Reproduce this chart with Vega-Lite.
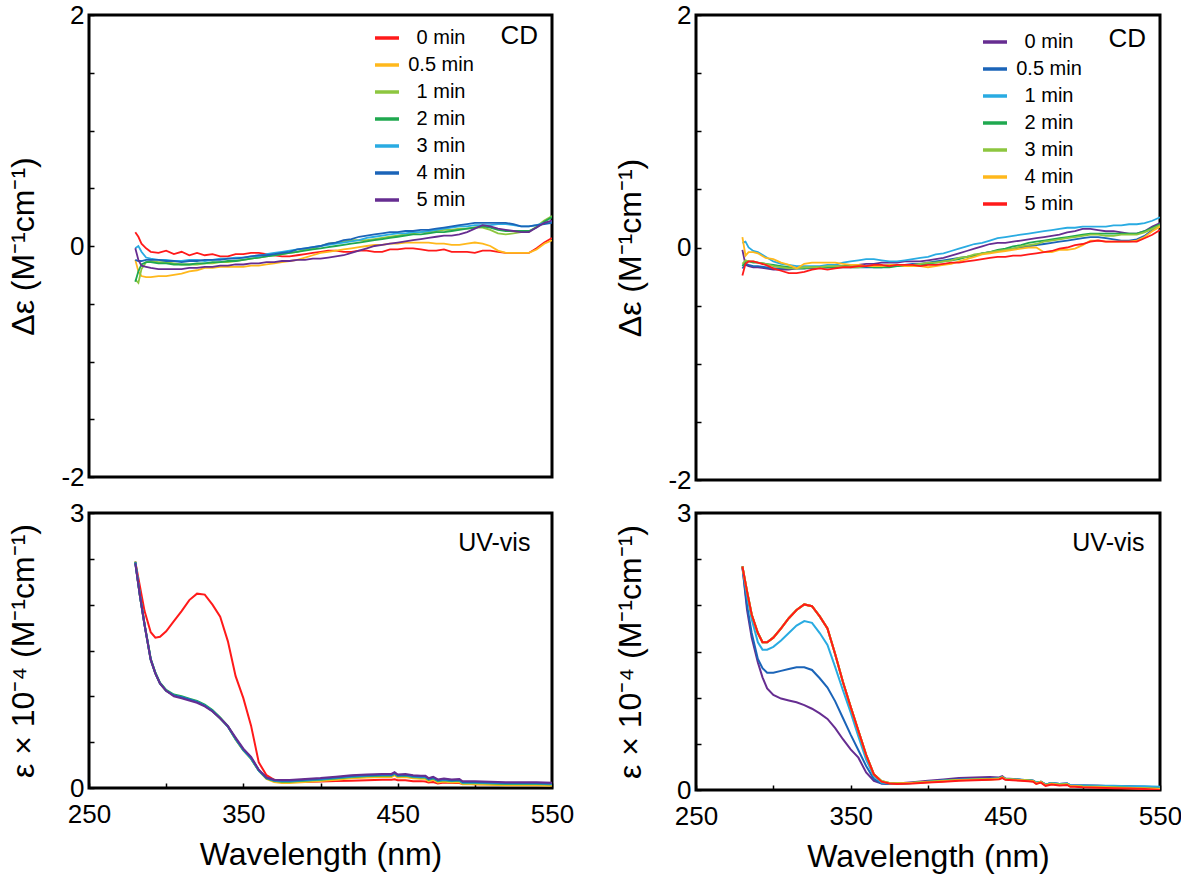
{
  "$schema": "https://vega.github.io/schema/vega-lite/v6.json",
  "background": "white",
  "padding": {"left": 5, "top": 0, "right": 0, "bottom": 0},
  "config": {
    "font": "Liberation Sans",
    "view": {"stroke": "black", "strokeWidth": 3},
    "axis": {
      "grid": false, "domain": false, "tickColor": "black", "tickWidth": 1.5, "tickSize": -5,
      "labelFont": "Liberation Sans", "labelFontSize": 26, "labelColor": "black",
      "titleFont": "Liberation Sans", "titleFontSize": 32, "titleFontWeight": "normal", "titleColor": "black",
      "labelFlush": false, "labelOverlap": false, "labelBound": false
    },
    "legend": {"labelFont": "Liberation Sans"}
  },
  "datasets": {
    "names": [
      {"k": "a", "t": "0 min"}, {"k": "b", "t": "0.5 min"}, {"k": "c", "t": "1 min"}, {"k": "d", "t": "2 min"},
      {"k": "e", "t": "3 min"}, {"k": "f", "t": "4 min"}, {"k": "g", "t": "5 min"}
    ],
    "cdL": [
      {"x":280,"a":0.12,"b":-0.12,"c":-0.29,"d":-0.31,"e":-0.02,"f":-0.12,"g":-0.02},
      {"x":282,"a":0.08,"b":-0.22,"c":-0.32,"d":-0.22,"e":0.0,"f":-0.13,"g":-0.12},
      {"x":284,"a":0.02,"b":-0.26,"c":-0.2,"d":-0.16,"e":-0.05,"f":-0.13,"g":-0.17},
      {"x":287,"a":-0.02,"b":-0.27,"c":-0.14,"d":-0.14,"e":-0.1,"f":-0.12,"g":-0.18},
      {"x":290,"a":-0.05,"b":-0.27,"c":-0.13,"d":-0.14,"e":-0.11,"f":-0.12,"g":-0.19},
      {"x":295,"a":-0.06,"b":-0.26,"c":-0.14,"d":-0.15,"e":-0.12,"f":-0.12,"g":-0.2},
      {"x":300,"a":-0.04,"b":-0.26,"c":-0.14,"d":-0.15,"e":-0.12,"f":-0.13,"g":-0.2},
      {"x":305,"a":-0.07,"b":-0.25,"c":-0.15,"d":-0.16,"e":-0.13,"f":-0.13,"g":-0.2},
      {"x":310,"a":-0.05,"b":-0.24,"c":-0.16,"d":-0.16,"e":-0.13,"f":-0.14,"g":-0.2},
      {"x":315,"a":-0.08,"b":-0.22,"c":-0.16,"d":-0.16,"e":-0.12,"f":-0.13,"g":-0.19},
      {"x":320,"a":-0.06,"b":-0.21,"c":-0.16,"d":-0.15,"e":-0.12,"f":-0.13,"g":-0.19},
      {"x":325,"a":-0.08,"b":-0.19,"c":-0.15,"d":-0.15,"e":-0.13,"f":-0.12,"g":-0.18},
      {"x":330,"a":-0.07,"b":-0.19,"c":-0.15,"d":-0.14,"e":-0.12,"f":-0.12,"g":-0.18},
      {"x":335,"a":-0.09,"b":-0.18,"c":-0.14,"d":-0.14,"e":-0.11,"f":-0.12,"g":-0.17},
      {"x":340,"a":-0.09,"b":-0.18,"c":-0.14,"d":-0.13,"e":-0.11,"f":-0.11,"g":-0.17},
      {"x":345,"a":-0.07,"b":-0.18,"c":-0.13,"d":-0.13,"e":-0.1,"f":-0.11,"g":-0.16},
      {"x":350,"a":-0.07,"b":-0.18,"c":-0.12,"d":-0.12,"e":-0.1,"f":-0.1,"g":-0.16},
      {"x":355,"a":-0.06,"b":-0.17,"c":-0.11,"d":-0.11,"e":-0.09,"f":-0.09,"g":-0.15},
      {"x":360,"a":-0.06,"b":-0.17,"c":-0.1,"d":-0.1,"e":-0.09,"f":-0.08,"g":-0.15},
      {"x":365,"a":-0.07,"b":-0.16,"c":-0.09,"d":-0.09,"e":-0.07,"f":-0.08,"g":-0.14},
      {"x":370,"a":-0.08,"b":-0.15,"c":-0.08,"d":-0.08,"e":-0.06,"f":-0.07,"g":-0.14},
      {"x":375,"a":-0.09,"b":-0.14,"c":-0.07,"d":-0.07,"e":-0.05,"f":-0.06,"g":-0.13},
      {"x":380,"a":-0.09,"b":-0.13,"c":-0.06,"d":-0.06,"e":-0.04,"f":-0.05,"g":-0.13},
      {"x":385,"a":-0.08,"b":-0.12,"c":-0.05,"d":-0.05,"e":-0.03,"f":-0.03,"g":-0.12},
      {"x":390,"a":-0.07,"b":-0.1,"c":-0.03,"d":-0.04,"e":-0.02,"f":-0.02,"g":-0.12},
      {"x":395,"a":-0.06,"b":-0.08,"c":-0.02,"d":-0.03,"e":-0.01,"f":-0.01,"g":-0.11},
      {"x":400,"a":-0.05,"b":-0.06,"c":0.0,"d":-0.02,"e":0.0,"f":0.0,"g":-0.11},
      {"x":405,"a":-0.04,"b":-0.05,"c":0.02,"d":-0.01,"e":0.01,"f":0.02,"g":-0.1},
      {"x":410,"a":-0.04,"b":-0.04,"c":0.03,"d":0.0,"e":0.02,"f":0.03,"g":-0.09},
      {"x":415,"a":-0.05,"b":-0.03,"c":0.04,"d":0.01,"e":0.03,"f":0.05,"g":-0.08},
      {"x":420,"a":-0.05,"b":-0.02,"c":0.05,"d":0.02,"e":0.04,"f":0.06,"g":-0.06},
      {"x":425,"a":-0.04,"b":-0.01,"c":0.05,"d":0.03,"e":0.05,"f":0.08,"g":-0.04},
      {"x":430,"a":-0.04,"b":0.0,"c":0.05,"d":0.04,"e":0.07,"f":0.09,"g":-0.02},
      {"x":435,"a":-0.05,"b":0.01,"c":0.06,"d":0.05,"e":0.08,"f":0.1,"g":0.0},
      {"x":440,"a":-0.05,"b":0.01,"c":0.07,"d":0.06,"e":0.09,"f":0.11,"g":0.01},
      {"x":445,"a":-0.03,"b":0.02,"c":0.08,"d":0.07,"e":0.1,"f":0.12,"g":0.02},
      {"x":450,"a":-0.03,"b":0.02,"c":0.09,"d":0.08,"e":0.11,"f":0.12,"g":0.03},
      {"x":455,"a":-0.02,"b":0.03,"c":0.1,"d":0.09,"e":0.11,"f":0.13,"g":0.04},
      {"x":460,"a":-0.02,"b":0.03,"c":0.11,"d":0.1,"e":0.12,"f":0.13,"g":0.05},
      {"x":465,"a":-0.03,"b":0.03,"c":0.12,"d":0.1,"e":0.12,"f":0.14,"g":0.06},
      {"x":470,"a":-0.04,"b":0.03,"c":0.12,"d":0.11,"e":0.13,"f":0.14,"g":0.07},
      {"x":475,"a":-0.04,"b":0.02,"c":0.13,"d":0.12,"e":0.14,"f":0.15,"g":0.08},
      {"x":480,"a":-0.03,"b":0.02,"c":0.14,"d":0.12,"e":0.15,"f":0.16,"g":0.09},
      {"x":485,"a":-0.05,"b":0.01,"c":0.14,"d":0.13,"e":0.16,"f":0.17,"g":0.09},
      {"x":490,"a":-0.05,"b":0.01,"c":0.15,"d":0.14,"e":0.17,"f":0.18,"g":0.1},
      {"x":495,"a":-0.05,"b":0.02,"c":0.15,"d":0.15,"e":0.17,"f":0.19,"g":0.12},
      {"x":500,"a":-0.06,"b":0.03,"c":0.16,"d":0.16,"e":0.18,"f":0.2,"g":0.15},
      {"x":505,"a":-0.04,"b":0.02,"c":0.16,"d":0.17,"e":0.18,"f":0.2,"g":0.18},
      {"x":510,"a":-0.04,"b":0.0,"c":0.14,"d":0.16,"e":0.18,"f":0.2,"g":0.17},
      {"x":515,"a":-0.05,"b":-0.04,"c":0.11,"d":0.14,"e":0.19,"f":0.2,"g":0.15},
      {"x":520,"a":-0.06,"b":-0.06,"c":0.1,"d":0.13,"e":0.19,"f":0.2,"g":0.14},
      {"x":525,"a":-0.06,"b":-0.06,"c":0.11,"d":0.13,"e":0.18,"f":0.19,"g":0.13},
      {"x":530,"a":-0.06,"b":-0.06,"c":0.12,"d":0.13,"e":0.17,"f":0.17,"g":0.12},
      {"x":535,"a":-0.06,"b":-0.06,"c":0.12,"d":0.13,"e":0.17,"f":0.17,"g":0.12},
      {"x":540,"a":-0.02,"b":-0.03,"c":0.17,"d":0.16,"e":0.18,"f":0.18,"g":0.16},
      {"x":545,"a":0.03,"b":0.02,"c":0.22,"d":0.21,"e":0.2,"f":0.19,"g":0.2},
      {"x":550,"a":0.07,"b":0.05,"c":0.26,"d":0.25,"e":0.21,"f":0.2,"g":0.22}
    ],
    "cdR": [
      {"x":280,"a":-0.02,"b":-0.18,"c":0.04,"d":-0.16,"e":-0.14,"f":0.09,"g":-0.24},
      {"x":282,"a":-0.15,"b":-0.14,"c":0.05,"d":-0.12,"e":-0.11,"f":-0.07,"g":-0.14},
      {"x":284,"a":-0.16,"b":-0.15,"c":0.0,"d":-0.12,"e":-0.12,"f":-0.04,"g":-0.12},
      {"x":287,"a":-0.17,"b":-0.16,"c":-0.03,"d":-0.13,"e":-0.12,"f":-0.04,"g":-0.12},
      {"x":290,"a":-0.17,"b":-0.16,"c":-0.04,"d":-0.13,"e":-0.13,"f":-0.05,"g":-0.13},
      {"x":295,"a":-0.18,"b":-0.17,"c":-0.08,"d":-0.14,"e":-0.14,"f":-0.09,"g":-0.15},
      {"x":300,"a":-0.19,"b":-0.18,"c":-0.12,"d":-0.15,"e":-0.16,"f":-0.1,"g":-0.18},
      {"x":305,"a":-0.19,"b":-0.18,"c":-0.14,"d":-0.16,"e":-0.17,"f":-0.13,"g":-0.2},
      {"x":310,"a":-0.19,"b":-0.18,"c":-0.15,"d":-0.17,"e":-0.18,"f":-0.15,"g":-0.22},
      {"x":315,"a":-0.18,"b":-0.18,"c":-0.16,"d":-0.18,"e":-0.18,"f":-0.18,"g":-0.22},
      {"x":320,"a":-0.18,"b":-0.18,"c":-0.16,"d":-0.18,"e":-0.17,"f":-0.14,"g":-0.21},
      {"x":325,"a":-0.18,"b":-0.17,"c":-0.16,"d":-0.17,"e":-0.17,"f":-0.13,"g":-0.19},
      {"x":330,"a":-0.17,"b":-0.17,"c":-0.16,"d":-0.17,"e":-0.17,"f":-0.13,"g":-0.18},
      {"x":335,"a":-0.17,"b":-0.17,"c":-0.15,"d":-0.17,"e":-0.16,"f":-0.13,"g":-0.19},
      {"x":340,"a":-0.16,"b":-0.17,"c":-0.15,"d":-0.17,"e":-0.16,"f":-0.13,"g":-0.18},
      {"x":345,"a":-0.16,"b":-0.17,"c":-0.13,"d":-0.16,"e":-0.16,"f":-0.14,"g":-0.17},
      {"x":350,"a":-0.15,"b":-0.17,"c":-0.12,"d":-0.16,"e":-0.17,"f":-0.15,"g":-0.17},
      {"x":355,"a":-0.15,"b":-0.17,"c":-0.11,"d":-0.16,"e":-0.17,"f":-0.15,"g":-0.16},
      {"x":360,"a":-0.14,"b":-0.17,"c":-0.1,"d":-0.16,"e":-0.16,"f":-0.16,"g":-0.16},
      {"x":365,"a":-0.14,"b":-0.17,"c":-0.1,"d":-0.17,"e":-0.16,"f":-0.16,"g":-0.15},
      {"x":370,"a":-0.13,"b":-0.17,"c":-0.11,"d":-0.17,"e":-0.16,"f":-0.16,"g":-0.15},
      {"x":375,"a":-0.13,"b":-0.16,"c":-0.12,"d":-0.17,"e":-0.15,"f":-0.15,"g":-0.16},
      {"x":380,"a":-0.13,"b":-0.16,"c":-0.12,"d":-0.16,"e":-0.15,"f":-0.15,"g":-0.15},
      {"x":385,"a":-0.12,"b":-0.15,"c":-0.11,"d":-0.16,"e":-0.15,"f":-0.16,"g":-0.15},
      {"x":390,"a":-0.12,"b":-0.14,"c":-0.1,"d":-0.15,"e":-0.15,"f":-0.16,"g":-0.15},
      {"x":395,"a":-0.12,"b":-0.14,"c":-0.09,"d":-0.15,"e":-0.14,"f":-0.16,"g":-0.16},
      {"x":400,"a":-0.11,"b":-0.13,"c":-0.08,"d":-0.14,"e":-0.13,"f":-0.17,"g":-0.15},
      {"x":405,"a":-0.1,"b":-0.12,"c":-0.06,"d":-0.13,"e":-0.13,"f":-0.16,"g":-0.15},
      {"x":410,"a":-0.09,"b":-0.11,"c":-0.05,"d":-0.12,"e":-0.12,"f":-0.15,"g":-0.14},
      {"x":415,"a":-0.07,"b":-0.1,"c":-0.03,"d":-0.11,"e":-0.11,"f":-0.14,"g":-0.13},
      {"x":420,"a":-0.05,"b":-0.09,"c":-0.01,"d":-0.1,"e":-0.09,"f":-0.12,"g":-0.13},
      {"x":425,"a":-0.03,"b":-0.08,"c":0.01,"d":-0.08,"e":-0.08,"f":-0.1,"g":-0.12},
      {"x":430,"a":-0.01,"b":-0.07,"c":0.03,"d":-0.07,"e":-0.06,"f":-0.08,"g":-0.11},
      {"x":435,"a":0.01,"b":-0.05,"c":0.04,"d":-0.05,"e":-0.05,"f":-0.06,"g":-0.1},
      {"x":440,"a":0.03,"b":-0.04,"c":0.06,"d":-0.04,"e":-0.04,"f":-0.05,"g":-0.09},
      {"x":445,"a":0.04,"b":-0.03,"c":0.08,"d":-0.02,"e":-0.03,"f":-0.04,"g":-0.08},
      {"x":450,"a":0.04,"b":-0.02,"c":0.09,"d":-0.01,"e":-0.02,"f":-0.03,"g":-0.08},
      {"x":455,"a":0.05,"b":-0.01,"c":0.1,"d":0.01,"e":-0.01,"f":-0.02,"g":-0.07},
      {"x":460,"a":0.06,"b":0.0,"c":0.11,"d":0.02,"e":0.01,"f":-0.01,"g":-0.07},
      {"x":465,"a":0.07,"b":0.01,"c":0.12,"d":0.04,"e":0.02,"f":0.0,"g":-0.06},
      {"x":470,"a":0.08,"b":0.02,"c":0.13,"d":0.05,"e":0.03,"f":0.0,"g":-0.05},
      {"x":475,"a":0.09,"b":0.03,"c":0.14,"d":0.06,"e":0.05,"f":-0.04,"g":-0.04},
      {"x":480,"a":0.1,"b":0.04,"c":0.15,"d":0.07,"e":0.06,"f":-0.04,"g":-0.03},
      {"x":485,"a":0.11,"b":0.05,"c":0.16,"d":0.08,"e":0.07,"f":-0.02,"g":-0.01},
      {"x":490,"a":0.13,"b":0.06,"c":0.17,"d":0.09,"e":0.08,"f":-0.02,"g":0.0},
      {"x":495,"a":0.14,"b":0.07,"c":0.17,"d":0.1,"e":0.09,"f":-0.01,"g":0.02},
      {"x":500,"a":0.16,"b":0.08,"c":0.18,"d":0.11,"e":0.1,"f":0.02,"g":0.03},
      {"x":505,"a":0.16,"b":0.09,"c":0.18,"d":0.12,"e":0.11,"f":0.06,"g":0.05},
      {"x":510,"a":0.15,"b":0.09,"c":0.18,"d":0.12,"e":0.11,"f":0.06,"g":0.06},
      {"x":515,"a":0.14,"b":0.08,"c":0.18,"d":0.12,"e":0.1,"f":0.05,"g":0.05},
      {"x":520,"a":0.14,"b":0.07,"c":0.19,"d":0.12,"e":0.1,"f":0.05,"g":0.05},
      {"x":525,"a":0.13,"b":0.06,"c":0.19,"d":0.12,"e":0.11,"f":0.05,"g":0.05},
      {"x":530,"a":0.12,"b":0.06,"c":0.2,"d":0.12,"e":0.11,"f":0.05,"g":0.05},
      {"x":535,"a":0.12,"b":0.07,"c":0.2,"d":0.12,"e":0.11,"f":0.06,"g":0.05},
      {"x":540,"a":0.14,"b":0.1,"c":0.21,"d":0.14,"e":0.13,"f":0.09,"g":0.08},
      {"x":545,"a":0.18,"b":0.15,"c":0.23,"d":0.17,"e":0.16,"f":0.14,"g":0.11},
      {"x":550,"a":0.21,"b":0.19,"c":0.26,"d":0.2,"e":0.19,"f":0.18,"g":0.15}
    ],
    "uvL": [
      {"x":280,"a":2.47,"b":2.47,"c":2.46,"d":2.47,"e":2.46,"f":2.46,"g":2.45},
      {"x":283,"a":2.2,"b":2.1,"c":2.1,"d":2.1,"e":2.1,"f":2.1,"g":2.1},
      {"x":286,"a":1.93,"b":1.78,"c":1.78,"d":1.79,"e":1.78,"f":1.78,"g":1.78},
      {"x":290,"a":1.7,"b":1.4,"c":1.4,"d":1.41,"e":1.4,"f":1.4,"g":1.4},
      {"x":293,"a":1.64,"b":1.25,"c":1.25,"d":1.26,"e":1.25,"f":1.25,"g":1.25},
      {"x":296,"a":1.65,"b":1.14,"c":1.14,"d":1.15,"e":1.14,"f":1.14,"g":1.14},
      {"x":300,"a":1.71,"b":1.06,"c":1.06,"d":1.07,"e":1.06,"f":1.06,"g":1.06},
      {"x":305,"a":1.82,"b":1.01,"c":1.01,"d":1.02,"e":1.01,"f":1.01,"g":1.0},
      {"x":310,"a":1.93,"b":0.99,"c":0.99,"d":1.0,"e":0.99,"f":0.99,"g":0.98},
      {"x":315,"a":2.05,"b":0.965,"c":0.965,"d":0.975,"e":0.965,"f":0.965,"g":0.955},
      {"x":320,"a":2.12,"b":0.94,"c":0.94,"d":0.95,"e":0.94,"f":0.94,"g":0.93},
      {"x":325,"a":2.11,"b":0.9,"c":0.9,"d":0.91,"e":0.9,"f":0.9,"g":0.89},
      {"x":330,"a":2.0,"b":0.84,"c":0.84,"d":0.85,"e":0.84,"f":0.84,"g":0.835},
      {"x":335,"a":1.87,"b":0.76,"c":0.76,"d":0.77,"e":0.76,"f":0.76,"g":0.76},
      {"x":340,"a":1.6,"b":0.67,"c":0.67,"d":0.675,"e":0.67,"f":0.67,"g":0.675},
      {"x":345,"a":1.22,"b":0.53,"c":0.53,"d":0.535,"e":0.535,"f":0.54,"g":0.55},
      {"x":350,"a":0.98,"b":0.41,"c":0.41,"d":0.415,"e":0.415,"f":0.42,"g":0.43},
      {"x":355,"a":0.68,"b":0.32,"c":0.32,"d":0.32,"e":0.325,"f":0.33,"g":0.34},
      {"x":360,"a":0.28,"b":0.19,"c":0.19,"d":0.19,"e":0.19,"f":0.195,"g":0.2},
      {"x":365,"a":0.14,"b":0.1,"c":0.105,"d":0.105,"e":0.11,"f":0.11,"g":0.115},
      {"x":370,"a":0.09,"b":0.065,"c":0.075,"d":0.08,"e":0.082,"f":0.085,"g":0.09},
      {"x":375,"a":0.075,"b":0.055,"c":0.068,"d":0.072,"e":0.076,"f":0.08,"g":0.088},
      {"x":380,"a":0.07,"b":0.055,"c":0.068,"d":0.072,"e":0.076,"f":0.08,"g":0.088},
      {"x":390,"a":0.065,"b":0.065,"c":0.078,"d":0.082,"e":0.086,"f":0.09,"g":0.098},
      {"x":400,"a":0.07,"b":0.075,"c":0.088,"d":0.092,"e":0.096,"f":0.1,"g":0.108},
      {"x":410,"a":0.075,"b":0.09,"c":0.103,"d":0.107,"e":0.111,"f":0.115,"g":0.123},
      {"x":420,"a":0.08,"b":0.105,"c":0.118,"d":0.122,"e":0.126,"f":0.13,"g":0.138},
      {"x":430,"a":0.085,"b":0.115,"c":0.128,"d":0.132,"e":0.136,"f":0.14,"g":0.148},
      {"x":440,"a":0.09,"b":0.12,"c":0.133,"d":0.137,"e":0.141,"f":0.145,"g":0.153},
      {"x":446,"a":0.09,"b":0.12,"c":0.133,"d":0.137,"e":0.141,"f":0.145,"g":0.153},
      {"x":448,"a":0.095,"b":0.14,"c":0.153,"d":0.157,"e":0.161,"f":0.165,"g":0.173},
      {"x":450,"a":0.085,"b":0.115,"c":0.128,"d":0.132,"e":0.136,"f":0.14,"g":0.148},
      {"x":455,"a":0.085,"b":0.12,"c":0.133,"d":0.137,"e":0.141,"f":0.145,"g":0.153},
      {"x":460,"a":0.075,"b":0.105,"c":0.118,"d":0.122,"e":0.126,"f":0.13,"g":0.138},
      {"x":465,"a":0.075,"b":0.1,"c":0.113,"d":0.117,"e":0.121,"f":0.125,"g":0.133},
      {"x":468,"a":0.07,"b":0.1,"c":0.113,"d":0.117,"e":0.121,"f":0.125,"g":0.133},
      {"x":470,"a":0.06,"b":0.075,"c":0.088,"d":0.092,"e":0.096,"f":0.1,"g":0.108},
      {"x":473,"a":0.065,"b":0.09,"c":0.103,"d":0.107,"e":0.111,"f":0.115,"g":0.123},
      {"x":476,"a":0.05,"b":0.06,"c":0.073,"d":0.077,"e":0.081,"f":0.085,"g":0.093},
      {"x":480,"a":0.06,"b":0.07,"c":0.083,"d":0.087,"e":0.091,"f":0.095,"g":0.103},
      {"x":485,"a":0.055,"b":0.06,"c":0.073,"d":0.077,"e":0.081,"f":0.085,"g":0.093},
      {"x":490,"a":0.055,"b":0.065,"c":0.078,"d":0.082,"e":0.086,"f":0.09,"g":0.098},
      {"x":492,"a":0.045,"b":0.04,"c":0.053,"d":0.057,"e":0.061,"f":0.065,"g":0.073},
      {"x":495,"a":0.045,"b":0.04,"c":0.053,"d":0.057,"e":0.061,"f":0.065,"g":0.073},
      {"x":500,"a":0.04,"b":0.04,"c":0.053,"d":0.057,"e":0.061,"f":0.065,"g":0.073},
      {"x":510,"a":0.04,"b":0.035,"c":0.048,"d":0.052,"e":0.056,"f":0.06,"g":0.068},
      {"x":520,"a":0.035,"b":0.03,"c":0.043,"d":0.047,"e":0.051,"f":0.055,"g":0.063},
      {"x":530,"a":0.035,"b":0.03,"c":0.043,"d":0.047,"e":0.051,"f":0.055,"g":0.063},
      {"x":540,"a":0.035,"b":0.03,"c":0.043,"d":0.047,"e":0.051,"f":0.055,"g":0.063},
      {"x":550,"a":0.035,"b":0.025,"c":0.038,"d":0.042,"e":0.046,"f":0.05,"g":0.058}
    ],
    "uvR": [
      {"x":280,"a":2.42,"b":2.42,"c":2.42,"d":2.42,"e":2.42,"f":2.42,"g":2.42},
      {"x":283,"a":1.95,"b":2.0,"c":2.1,"d":2.15,"e":2.15,"f":2.15,"g":2.15},
      {"x":286,"a":1.65,"b":1.7,"c":1.85,"d":1.9,"e":1.9,"f":1.9,"g":1.9},
      {"x":290,"a":1.38,"b":1.42,"c":1.6,"d":1.7,"e":1.7,"f":1.7,"g":1.7},
      {"x":293,"a":1.22,"b":1.32,"c":1.52,"d":1.6,"e":1.6,"f":1.6,"g":1.6},
      {"x":296,"a":1.1,"b":1.27,"c":1.52,"d":1.6,"e":1.6,"f":1.6,"g":1.6},
      {"x":300,"a":1.03,"b":1.27,"c":1.55,"d":1.65,"e":1.65,"f":1.65,"g":1.65},
      {"x":305,"a":0.99,"b":1.29,"c":1.62,"d":1.75,"e":1.75,"f":1.75,"g":1.75},
      {"x":310,"a":0.97,"b":1.31,"c":1.7,"d":1.86,"e":1.86,"f":1.86,"g":1.86},
      {"x":315,"a":0.95,"b":1.33,"c":1.78,"d":1.95,"e":1.95,"f":1.95,"g":1.95},
      {"x":320,"a":0.92,"b":1.33,"c":1.83,"d":2.01,"e":2.01,"f":2.01,"g":2.01},
      {"x":325,"a":0.88,"b":1.3,"c":1.81,"d":1.99,"e":1.99,"f":1.99,"g":1.99},
      {"x":330,"a":0.83,"b":1.21,"c":1.7,"d":1.88,"e":1.88,"f":1.88,"g":1.88},
      {"x":335,"a":0.77,"b":1.11,"c":1.57,"d":1.75,"e":1.75,"f":1.75,"g":1.75},
      {"x":340,"a":0.67,"b":0.96,"c":1.33,"d":1.47,"e":1.47,"f":1.47,"g":1.47},
      {"x":345,"a":0.55,"b":0.78,"c":1.08,"d":1.17,"e":1.17,"f":1.17,"g":1.17},
      {"x":350,"a":0.44,"b":0.6,"c":0.84,"d":0.9,"e":0.9,"f":0.9,"g":0.9},
      {"x":355,"a":0.35,"b":0.43,"c":0.58,"d":0.64,"e":0.64,"f":0.64,"g":0.64},
      {"x":360,"a":0.19,"b":0.26,"c":0.33,"d":0.38,"e":0.38,"f":0.38,"g":0.38},
      {"x":365,"a":0.1,"b":0.12,"c":0.15,"d":0.17,"e":0.17,"f":0.17,"g":0.17},
      {"x":370,"a":0.07,"b":0.07,"c":0.08,"d":0.095,"e":0.097,"f":0.093,"g":0.09},
      {"x":375,"a":0.065,"b":0.065,"c":0.07,"d":0.075,"e":0.077,"f":0.073,"g":0.07},
      {"x":380,"a":0.07,"b":0.065,"c":0.07,"d":0.072,"e":0.074,"f":0.07,"g":0.065},
      {"x":390,"a":0.085,"b":0.075,"c":0.075,"d":0.077,"e":0.079,"f":0.075,"g":0.07},
      {"x":400,"a":0.1,"b":0.09,"c":0.09,"d":0.087,"e":0.089,"f":0.085,"g":0.08},
      {"x":410,"a":0.115,"b":0.105,"c":0.1,"d":0.097,"e":0.099,"f":0.095,"g":0.09},
      {"x":420,"a":0.13,"b":0.115,"c":0.11,"d":0.107,"e":0.109,"f":0.105,"g":0.1},
      {"x":430,"a":0.135,"b":0.12,"c":0.115,"d":0.112,"e":0.114,"f":0.11,"g":0.105},
      {"x":440,"a":0.14,"b":0.125,"c":0.12,"d":0.117,"e":0.119,"f":0.115,"g":0.11},
      {"x":446,"a":0.135,"b":0.125,"c":0.125,"d":0.122,"e":0.124,"f":0.12,"g":0.115},
      {"x":448,"a":0.15,"b":0.14,"c":0.14,"d":0.137,"e":0.139,"f":0.135,"g":0.13},
      {"x":450,"a":0.125,"b":0.12,"c":0.12,"d":0.117,"e":0.119,"f":0.115,"g":0.11},
      {"x":455,"a":0.12,"b":0.115,"c":0.115,"d":0.112,"e":0.114,"f":0.11,"g":0.105},
      {"x":460,"a":0.11,"b":0.11,"c":0.11,"d":0.107,"e":0.109,"f":0.105,"g":0.1},
      {"x":465,"a":0.105,"b":0.105,"c":0.105,"d":0.102,"e":0.104,"f":0.1,"g":0.095},
      {"x":468,"a":0.1,"b":0.1,"c":0.1,"d":0.097,"e":0.099,"f":0.095,"g":0.09},
      {"x":470,"a":0.08,"b":0.08,"c":0.08,"d":0.072,"e":0.074,"f":0.07,"g":0.065},
      {"x":473,"a":0.09,"b":0.09,"c":0.09,"d":0.087,"e":0.089,"f":0.085,"g":0.08},
      {"x":476,"a":0.06,"b":0.06,"c":0.06,"d":0.052,"e":0.054,"f":0.05,"g":0.045},
      {"x":480,"a":0.075,"b":0.075,"c":0.075,"d":0.067,"e":0.069,"f":0.065,"g":0.06},
      {"x":485,"a":0.065,"b":0.065,"c":0.065,"d":0.057,"e":0.059,"f":0.055,"g":0.05},
      {"x":490,"a":0.07,"b":0.07,"c":0.07,"d":0.062,"e":0.064,"f":0.06,"g":0.055},
      {"x":492,"a":0.05,"b":0.05,"c":0.05,"d":0.042,"e":0.044,"f":0.04,"g":0.035},
      {"x":495,"a":0.05,"b":0.05,"c":0.05,"d":0.042,"e":0.044,"f":0.04,"g":0.035},
      {"x":500,"a":0.05,"b":0.05,"c":0.05,"d":0.037,"e":0.039,"f":0.035,"g":0.03},
      {"x":510,"a":0.045,"b":0.045,"c":0.045,"d":0.032,"e":0.034,"f":0.03,"g":0.025},
      {"x":520,"a":0.04,"b":0.04,"c":0.045,"d":0.027,"e":0.029,"f":0.025,"g":0.02},
      {"x":530,"a":0.035,"b":0.04,"c":0.04,"d":0.022,"e":0.024,"f":0.02,"g":0.015},
      {"x":540,"a":0.03,"b":0.035,"c":0.04,"d":0.017,"e":0.019,"f":0.015,"g":0.01},
      {"x":550,"a":0.03,"b":0.03,"c":0.035,"d":0.012,"e":0.014,"f":0.01,"g":0.0}
    ]
  },
  "resolve": {"scale": {"color": "independent"}, "legend": {"color": "independent"}},
  "columns": 2,
  "bounds": "flush",
  "align": "each",
  "spacing": {"row": 33, "column": 144},
  "concat": [
    {
      "width": 463, "height": 462,
      "encoding": {
        "x": {"type": "quantitative", "scale": {"domain": [250, 550], "nice": false, "zero": false}, "axis": null},
        "y": {"type": "quantitative", "scale": {"domain": [-2, 2], "nice": false},
          "axis": {"title": "Δε (M⁻¹cm⁻¹)", "values": [-2,-1.5,-1,-0.5,0,0.5,1,1.5,2],
            "labelExpr": "datum.value == 2 ? '2' : datum.value == 0 ? '0' : datum.value == -2 ? '-2' : ''",
            "minExtent": 40, "maxExtent": 40, "titlePadding": 9, "labelPadding": 10}}
      },
      "layer": [
        {
          "data": {"name": "cdL"},
          "transform": [
            {"fold": ["a","b","c","d","e","f","g"], "as": ["k","v"]},
            {"lookup": "k", "from": {"data": {"name": "names"}, "key": "k", "fields": ["t"]}}
          ],
          "mark": {"type": "line", "strokeWidth": 1.8, "clip": true},
          "encoding": {
            "x": {"field": "x"},
            "y": {"field": "v"},
            "color": {"field": "t", "type": "nominal",
              "scale": {"domain": ["0 min","0.5 min","1 min","2 min","3 min","4 min","5 min"],
                "range": ["#ff1a1a","#ffb81c","#8dc63f","#1fa84f","#29abe2","#1b64b8","#662d91"]},
              "legend": {"orient": "none", "legendX": 284, "legendY": 9, "title": null, "symbolType": "stroke",
                "symbolSize": 576, "symbolStrokeWidth": 3.5, "labelFontSize": 20, "labelColor": "black",
                "rowPadding": 3, "labelOffset": 40, "labelAlign": "center", "padding": 0}}
          }
        },
        {
          "data": {"values": [{}]},
          "mark": {"type": "text", "text": "CD", "fontSize": 26, "align": "right", "baseline": "middle", "color": "black"},
          "encoding": {
            "x": {"datum": 541},
            "y": {"datum": 1.82}
          }
        }
      ]
    },
    {
      "width": 464, "height": 465,
      "encoding": {
        "x": {"type": "quantitative", "scale": {"domain": [250, 550], "nice": false, "zero": false}, "axis": null},
        "y": {"type": "quantitative", "scale": {"domain": [-2, 2], "nice": false},
          "axis": {"title": "Δε (M⁻¹cm⁻¹)", "values": [-2,-1.5,-1,-0.5,0,0.5,1,1.5,2],
            "labelExpr": "datum.value == 2 ? '2' : datum.value == 0 ? '0' : datum.value == -2 ? '-2' : ''",
            "minExtent": 40, "maxExtent": 40, "titlePadding": 9, "labelPadding": 10}}
      },
      "layer": [
        {
          "data": {"name": "cdR"},
          "transform": [
            {"fold": ["a","b","c","d","e","f","g"], "as": ["k","v"]},
            {"lookup": "k", "from": {"data": {"name": "names"}, "key": "k", "fields": ["t"]}}
          ],
          "mark": {"type": "line", "strokeWidth": 1.8, "clip": true},
          "encoding": {
            "x": {"field": "x"},
            "y": {"field": "v"},
            "color": {"field": "t", "type": "nominal",
              "scale": {"domain": ["0 min","0.5 min","1 min","2 min","3 min","4 min","5 min"],
                "range": ["#662d91","#1b64b8","#29abe2","#1fa84f","#8dc63f","#ffb81c","#ff1a1a"]},
              "legend": {"orient": "none", "legendX": 285, "legendY": 13, "title": null, "symbolType": "stroke",
                "symbolSize": 576, "symbolStrokeWidth": 3.5, "labelFontSize": 20, "labelColor": "black",
                "rowPadding": 3, "labelOffset": 40, "labelAlign": "center", "padding": 0}}
          }
        },
        {
          "data": {"values": [{}]},
          "mark": {"type": "text", "text": "CD", "fontSize": 26, "align": "right", "baseline": "middle", "color": "black"},
          "encoding": {
            "x": {"datum": 541},
            "y": {"datum": 1.79}
          }
        }
      ]
    },
    {
      "width": 463, "height": 275,
      "encoding": {
        "x": {"type": "quantitative", "scale": {"domain": [250, 550], "nice": false, "zero": false},
          "axis": {"title": "Wavelength (nm)", "values": [250,300,350,400,450,500,550],
            "labelExpr": "datum.value % 100 == 50 ? datum.label : ''",
            "minExtent": 40, "maxExtent": 40, "labelPadding": 18, "titlePadding": 11}},
        "y": {"type": "quantitative", "scale": {"domain": [0, 3], "nice": false},
          "axis": {"title": "ε × 10⁻⁴ (M⁻¹cm⁻¹)", "values": [0,0.5,1,1.5,2,2.5,3],
            "labelExpr": "datum.value == 3 ? '3' : datum.value == 0 ? '0' : ''",
            "minExtent": 40, "maxExtent": 40, "titlePadding": 9, "labelPadding": 10}}
      },
      "layer": [
        {
          "data": {"name": "uvL"},
          "transform": [
            {"fold": ["a","b","c","d","e","f","g"], "as": ["k","v"]},
            {"lookup": "k", "from": {"data": {"name": "names"}, "key": "k", "fields": ["t"]}}
          ],
          "mark": {"type": "line", "strokeWidth": 2, "clip": true},
          "encoding": {
            "x": {"field": "x"},
            "y": {"field": "v"},
            "color": {"field": "t", "type": "nominal",
              "scale": {"domain": ["0 min","0.5 min","1 min","2 min","3 min","4 min","5 min"],
                "range": ["#ff1a1a","#ffb81c","#8dc63f","#1fa84f","#29abe2","#1b64b8","#662d91"]},
              "legend": null}
          }
        },
        {
          "data": {"values": [{}]},
          "mark": {"type": "text", "text": "UV-vis", "fontSize": 25, "align": "right", "baseline": "middle", "color": "black"},
          "encoding": {
            "x": {"datum": 536},
            "y": {"datum": 2.67}
          }
        }
      ]
    },
    {
      "width": 464, "height": 277,
      "encoding": {
        "x": {"type": "quantitative", "scale": {"domain": [250, 550], "nice": false, "zero": false},
          "axis": {"title": "Wavelength (nm)", "values": [250,300,350,400,450,500,550],
            "labelExpr": "datum.value % 100 == 50 ? datum.label : ''",
            "minExtent": 40, "maxExtent": 40, "labelPadding": 18, "titlePadding": 11}},
        "y": {"type": "quantitative", "scale": {"domain": [0, 3], "nice": false},
          "axis": {"title": "ε × 10⁻⁴ (M⁻¹cm⁻¹)", "values": [0,0.5,1,1.5,2,2.5,3],
            "labelExpr": "datum.value == 3 ? '3' : datum.value == 0 ? '0' : ''",
            "minExtent": 40, "maxExtent": 40, "titlePadding": 9, "labelPadding": 10}}
      },
      "layer": [
        {
          "data": {"name": "uvR"},
          "transform": [
            {"fold": ["a","b","c","d","e","f","g"], "as": ["k","v"]},
            {"lookup": "k", "from": {"data": {"name": "names"}, "key": "k", "fields": ["t"]}}
          ],
          "mark": {"type": "line", "strokeWidth": 2, "clip": true},
          "encoding": {
            "x": {"field": "x"},
            "y": {"field": "v"},
            "color": {"field": "t", "type": "nominal",
              "scale": {"domain": ["0 min","0.5 min","1 min","2 min","3 min","4 min","5 min"],
                "range": ["#662d91","#1b64b8","#29abe2","#1fa84f","#8dc63f","#ffb81c","#ff1a1a"]},
              "legend": null}
          }
        },
        {
          "data": {"values": [{}]},
          "mark": {"type": "text", "text": "UV-vis", "fontSize": 25, "align": "right", "baseline": "middle", "color": "black"},
          "encoding": {
            "x": {"datum": 540},
            "y": {"datum": 2.67}
          }
        }
      ]
    }
  ]
}
